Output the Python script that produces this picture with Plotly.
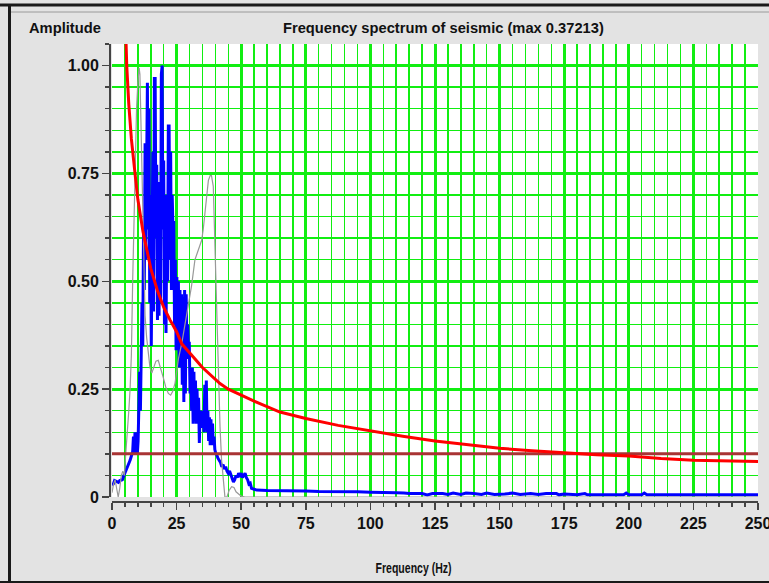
import plotly.graph_objects as go

# ---------------- data ----------------
blue_freq = [0.0, 0.5, 1.0, 1.5, 2.0, 2.5, 3.0, 3.5, 4.0, 4.5, 5.0, 5.5, 6.0, 6.5, 7.0, 7.5, 8.0,
             8.3, 8.6, 8.9, 9.2, 9.5, 9.8, 10.1, 10.4, 10.7, 11.0, 11.3, 11.6, 11.9, 12.2, 12.5,
             12.8, 13.1, 13.4, 13.7, 14.0, 14.3, 14.6, 14.9, 15.2, 15.5, 15.8, 16.1, 16.4, 16.7,
             17.0, 17.3, 17.6, 17.9, 18.2, 18.5, 18.8, 19.1, 19.4, 19.7, 20.0, 20.3, 20.6, 20.9,
             21.2, 21.5, 21.8, 22.1, 22.4, 22.7, 23.0, 23.3, 23.6, 23.9, 24.2, 24.5, 24.8, 25.1,
             25.4, 25.7, 26.0, 26.3, 26.6, 26.9, 27.2, 27.5, 27.8, 28.1, 28.4, 28.7, 29.0, 29.3,
             29.6, 29.9, 30.2, 30.5, 30.8, 31.1, 31.4, 31.7, 32.0, 32.3, 32.6, 32.9, 33.2, 33.5,
             33.8, 34.1, 34.4, 34.7, 35.0, 35.3, 35.6, 35.9, 36.2, 36.5, 36.8, 37.1, 37.4, 37.7,
             38.0, 38.3, 38.6, 38.9, 39.2, 39.5, 39.8, 40.2, 40.6, 41.0, 41.5, 42.0, 42.5, 43.0,
             43.5, 44.0, 44.5, 45.0, 45.5, 46.0, 46.5, 47.0, 47.5, 48.0, 48.5, 49.0, 49.5, 50.0,
             50.5, 51.0, 51.5, 52.0, 52.5, 53.0, 53.5, 54.0, 55.0, 56.0, 60.0, 65.0, 70.0, 75.0,
             80.0, 85.0, 90.0, 95.0, 100.0, 105.0, 110.0, 113.0, 115.0, 120.0, 122.0, 124.0,
             128.0, 130.0, 132.0, 135.0, 137.0, 140.0, 143.0, 145.0, 148.0, 152.0, 155.0, 158.0,
             162.0, 165.0, 168.0, 172.0, 173.0, 175.0, 180.0, 183.0, 184.0, 190.0, 198.0, 199.0,
             200.0, 205.0, 206.0, 207.0, 250.0]
blue_amp = [0.028, 0.030, 0.038, 0.036, 0.036, 0.034, 0.038, 0.040, 0.040, 0.048, 0.055, 0.060,
            0.068, 0.075, 0.085, 0.095, 0.105,
            0.14, 0.10, 0.15, 0.11, 0.15, 0.10, 0.13, 0.21, 0.29, 0.20, 0.30, 0.45, 0.35, 0.62, 0.48,
            0.82, 0.55, 0.93, 0.96, 0.62, 0.90, 0.45, 0.70, 0.35, 0.55, 0.80, 0.43, 0.97, 0.97,
            0.60, 0.77, 0.41, 0.73, 0.42, 0.65, 0.45, 0.98, 1.00, 0.62, 0.78, 0.40, 0.70, 0.38,
            0.62, 0.50, 0.86, 0.86, 0.55, 0.80, 0.48, 0.70, 0.62, 0.64, 0.40, 0.55, 0.34, 0.51,
            0.36, 0.50, 0.30, 0.48, 0.33, 0.47, 0.26, 0.46, 0.22, 0.48, 0.24, 0.47, 0.32, 0.40,
            0.34, 0.36, 0.24, 0.30, 0.20, 0.30, 0.17, 0.29, 0.18, 0.27, 0.17, 0.25, 0.18, 0.23,
            0.125, 0.20, 0.17, 0.19, 0.16, 0.20, 0.15, 0.26, 0.17, 0.27, 0.15, 0.20, 0.13, 0.185,
            0.12, 0.18, 0.12, 0.17, 0.12, 0.14, 0.11, 0.10, 0.097, 0.09, 0.085, 0.08, 0.07, 0.075,
            0.065, 0.07, 0.06, 0.055, 0.06, 0.05, 0.045, 0.035, 0.04, 0.05, 0.045, 0.055, 0.05, 0.055,
            0.045, 0.05, 0.055, 0.045, 0.04, 0.03, 0.032, 0.02, 0.018, 0.016, 0.015, 0.015, 0.014, 0.014,
            0.013, 0.013, 0.012, 0.012, 0.011, 0.011, 0.010, 0.009, 0.008, 0.008, 0.005, 0.008,
            0.008, 0.006, 0.009, 0.006, 0.009, 0.008, 0.006, 0.009, 0.006, 0.007, 0.009, 0.006,
            0.008, 0.006, 0.008, 0.008, 0.005, 0.007, 0.005, 0.008, 0.005, 0.005, 0.005, 0.009,
            0.005, 0.005, 0.009, 0.005, 0.005]

gray_freq = [0.0, 0.6, 1.2, 1.8, 2.4, 3.0, 3.6, 4.2, 4.8, 5.2, 5.6, 6.0, 6.5, 7.0, 7.5, 8.0, 8.5,
             9.0, 9.5, 10.0, 10.5, 10.8, 11.2, 11.6, 12.0, 12.4, 12.8, 13.4, 14.0, 14.7, 15.4,
             16.2, 17.0, 17.9, 18.8, 19.8, 20.8, 21.8, 22.7, 23.5, 24.4, 25.1, 25.7, 27.0, 28.3,
             29.5, 30.8, 32.1, 33.4, 34.7, 35.3, 36.0, 36.7, 37.3, 38.0, 38.5, 39.2, 39.8, 40.5,
             41.1, 41.8, 42.4, 43.1, 43.7, 44.5, 45.3, 46.3, 47.2, 48.0, 48.9, 50.0, 51.5, 250.0]
gray_amp = [0.01, 0.03, 0.04, 0.02, 0.0, 0.02, 0.05, 0.06, 0.05, 0.09, 0.12, 0.16, 0.20, 0.25,
            0.33, 0.50, 0.66, 0.80, 0.90, 0.96, 0.995, 0.98, 0.87, 0.78, 0.62, 0.50, 0.42, 0.37,
            0.34, 0.30, 0.287, 0.30, 0.315, 0.317, 0.30, 0.278, 0.255, 0.24, 0.236, 0.245, 0.264,
            0.29, 0.32, 0.356, 0.40, 0.44, 0.49, 0.55, 0.572, 0.595, 0.62, 0.664, 0.70, 0.734,
            0.745, 0.745, 0.72, 0.588, 0.433, 0.278, 0.163, 0.086, 0.032, 0.0, 0.0, 0.015, 0.024,
            0.022, 0.012, 0.008, 0.002, 0.0, 0.0]

red_freq = [5.3, 5.7, 6.5, 7.5, 8.9, 10.0, 12.0, 13.4, 15.0, 17.5, 20.0, 22.5, 25.0, 27.0, 30.0,
            35.0, 41.8, 45.0, 50.0, 55.0, 65.0, 75.0, 87.5, 100.0, 112.5, 125.0, 137.5, 150.0,
            162.5, 175.0, 187.5, 200.0, 212.5, 225.0, 237.5, 250.0]
red_amp = [1.08, 1.00, 0.91, 0.83, 0.75, 0.69, 0.615, 0.572, 0.53, 0.48, 0.44, 0.41, 0.383, 0.355,
           0.335, 0.30, 0.263, 0.25, 0.236, 0.222, 0.197, 0.182, 0.166, 0.153, 0.141, 0.130,
           0.121, 0.113, 0.107, 0.102, 0.098, 0.095, 0.089, 0.085, 0.083, 0.082]

level_freq = [0.0, 250.0]
level_amp = [0.1, 0.1]

x_tick_vals = [0, 25, 50, 75, 100, 125, 150, 175, 200, 225, 250]
x_tick_text = ["0", "25", "50", "75", "100", "125", "150", "175", "200", "225", "250"]
y_tick_vals = [0, 0.25, 0.5, 0.75, 1.0]
y_tick_text = ["0", "0.25", "0.50", "0.75", "1.00"]

title_text = "Frequency spectrum of seismic (max 0.37213)"
y_label = "Amplitude"
x_label = "Frequency (Hz)"

# ---------------- layout constants ----------------
W, H = 769, 583
FONT = "Liberation Sans"
GRID = "#11ee11"
AXC = "#444444"


def px_x(p):
    return p / W


def px_y(p):
    return (H - p) / H


fig = go.Figure()
fig.add_trace(go.Scatter(x=blue_freq, y=blue_amp, mode="lines",
                         line=dict(color="#0000ff", width=3), hoverinfo="skip"))
fig.add_trace(go.Scatter(x=gray_freq, y=gray_amp, mode="lines",
                         line=dict(color="#999999", width=1.2), hoverinfo="skip"))
fig.add_trace(go.Scatter(x=level_freq, y=level_amp, mode="lines",
                         line=dict(color="#a83434", width=3), hoverinfo="skip"))
fig.add_trace(go.Scatter(x=red_freq, y=red_amp, mode="lines",
                         line=dict(color="#ff0000", width=3), hoverinfo="skip"))

tickfont = dict(family=FONT, size=16, color="#111111", weight="bold")

fig.update_layout(
    width=W, height=H, autosize=False,
    margin=dict(l=0, r=0, t=0, b=0, autoexpand=False),
    paper_bgcolor="#e3e3e3",
    plot_bgcolor="#ffffff",
    showlegend=False,
    xaxis=dict(
        domain=[px_x(112), px_x(758)],
        range=[0, 250],
        anchor="free", position=px_y(502),
        tickmode="array", tickvals=x_tick_vals, ticktext=x_tick_text,
        ticklabeloverflow="allow",
        ticks="outside", ticklen=7, tickwidth=1.5, tickcolor=AXC,
        showline=True, linecolor=AXC, linewidth=2,
        showgrid=True, gridcolor=GRID, gridwidth=3,
        zeroline=False,
        minor=dict(dtick=5, tick0=0, ticks="outside", ticklen=4, tickwidth=1.5,
                   tickcolor=AXC, showgrid=True, gridcolor=GRID, gridwidth=1.5),
        tickfont=tickfont,
        fixedrange=True,
    ),
    yaxis=dict(
        domain=[px_y(497), px_y(44)],
        range=[0, 1.05],
        anchor="free", position=px_x(110),
        tickmode="array", tickvals=y_tick_vals, ticktext=y_tick_text,
        ticklabeloverflow="allow",
        ticks="outside", ticklen=7, tickwidth=1.5, tickcolor=AXC,
        showline=True, linecolor=AXC, linewidth=2,
        showgrid=True, gridcolor=GRID, gridwidth=3,
        zeroline=False,
        minor=dict(dtick=0.05, tick0=0, ticks="outside", ticklen=4, tickwidth=1.5,
                   tickcolor=AXC, showgrid=True, gridcolor=GRID, gridwidth=1.5),
        tickfont=tickfont,
        fixedrange=True,
    ),
    annotations=[
        dict(text=title_text, xref="paper", yref="paper", x=px_x(443), y=px_y(28),
             xanchor="center", yanchor="middle", showarrow=False,
             font=dict(family=FONT, size=14.7, color="#111111", weight="bold")),
        dict(text=y_label, xref="paper", yref="paper", x=px_x(26.5), y=px_y(28),
             xanchor="left", yanchor="middle", showarrow=False,
             font=dict(family=FONT, size=14.7, color="#111111", weight="bold")),
        dict(text=x_label, xref="paper", yref="paper", x=px_x(414), y=px_y(568),
             xanchor="center", yanchor="middle", showarrow=False,
             font=dict(family=FONT, size=14, color="#111111", weight="bold")),
    ],
    shapes=[
        dict(type="line", xref="paper", yref="paper", x0=0, x1=1, y0=px_y(5), y1=px_y(5),
             line=dict(color="#1a1a1a", width=3)),
        dict(type="line", xref="paper", yref="paper", x0=px_x(11), x1=1, y0=px_y(12), y1=px_y(12),
             line=dict(color="#9a9a9a", width=1)),
        dict(type="line", xref="paper", yref="paper", x0=px_x(9.5), x1=px_x(9.5), y0=0, y1=px_y(5),
             line=dict(color="#1a1a1a", width=3)),
        dict(type="line", xref="paper", yref="paper", x0=0, x1=1, y0=px_y(582), y1=px_y(582),
             line=dict(color="#1a1a1a", width=2)),
    ],
)

narrow_label_js = """
document.body.style.margin='0px';
document.body.style.overflow='hidden';
function narrowXLabel(){
  document.querySelectorAll('.annotation-text').forEach(function(t){
    if (t.textContent === 'Frequency (Hz)') {
      t.setAttribute('textLength', '76');
      t.setAttribute('lengthAdjust', 'spacingAndGlyphs');
    }
  });
}
narrowXLabel();
setTimeout(narrowXLabel, 0);
"""

fig.write_html(
    "out.html",
    config={"displayModeBar": False, "staticPlot": True},
    post_script=narrow_label_js,
)
